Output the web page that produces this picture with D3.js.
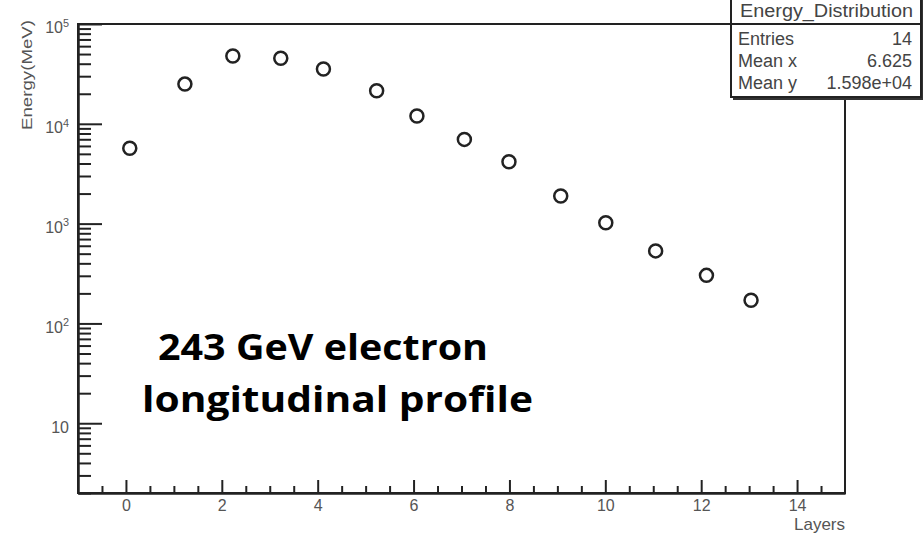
<!DOCTYPE html>
<html>
<head>
<meta charset="utf-8">
<script src="https://cdn.jsdelivr.net/npm/d3@7"></script>
<style>
  body { margin: 0; background: #fff; }
  svg text { font-family: "Liberation Sans", Arial, sans-serif; }
</style>
</head>
<body>
<svg id="chart"></svg>
<script>
// layer position and deposited energy (MeV)
const layers = [0.08, 1.23, 2.23, 3.23, 4.12, 5.23, 6.07, 7.06, 7.99, 9.07, 10.01, 11.05, 12.11, 13.04]
const energy = [5700, 25000, 47800, 45300, 35400, 21400, 11970, 6980, 4170, 1890, 1020, 533, 303, 171]

const xMajorTicks = [0, 2, 4, 6, 8, 10, 12, 14]
const yMajorTicks = [10, 100, 1000, 10000, 100000]

const statTitle = "Energy_Distribution"
const statNames = ["Entries", "Mean x", "Mean y"]
const statValues = ["14", "6.625", "1.598e+04"]

const noteLines = ["243 GeV electron", "longitudinal profile"]

const W = 923, H = 533
const margin = { top: 24, right: 78, bottom: 40, left: 78 }
const w = W - margin.left - margin.right
const h = H - margin.top - margin.bottom

const root = d3.select("#chart").attr("width", W).attr("height", H)
const svg = root.append("g")
  .attr("transform", "translate(" + margin.left + "," + margin.top + ")")

const xScale = d3.scaleLinear().domain([-1, 15]).range([0, w])
const yScale = d3.scaleLog().domain([2, 1e5]).range([h, 0])

// minor ticks: every 0.5 on x, 2..9 per decade on y
const xMinor = d3.range(-0.5, 15, 0.5).filter(v => !xMajorTicks.includes(v))
const yMinor = []
for (let e = 0; e < 5; e++) {
  for (let k = 2; k <= 9; k++) {
    const v = k * Math.pow(10, e)
    if (v >= 2 && v < 1e5) yMinor.push(v)
  }
}

// frame
svg.append("rect")
  .attr("width", w).attr("height", h)
  .attr("fill", "none").attr("stroke", "#222").attr("stroke-width", 2)

// x axis
const gXMinor = svg.append("g")
  .attr("transform", "translate(0," + h + ")")
  .call(d3.axisBottom(xScale).tickValues(xMinor).tickSize(-7).tickSizeOuter(0).tickFormat(""))
const gX = svg.append("g")
  .attr("transform", "translate(0," + h + ")")
  .call(d3.axisBottom(xScale).tickValues(xMajorTicks).tickSize(-13).tickSizeOuter(0).tickPadding(7))
gX.selectAll(".tick text").attr("font-size", 16).attr("fill", "#555")

// y axis
const gYMinor = svg.append("g")
  .call(d3.axisLeft(yScale).tickValues(yMinor).tickSize(-13).tickSizeOuter(0).tickFormat(""))
const gY = svg.append("g")
  .call(d3.axisLeft(yScale).tickValues(yMajorTicks).tickSize(-24).tickSizeOuter(0).tickPadding(9))

gY.selectAll(".tick text")
  .attr("font-size", 16).attr("fill", "#555").attr("dy", "0.55em")
  .each(function(d) {
    const t = d3.select(this)
    const e = Math.round(Math.log10(d))
    t.text(null)
    if (e === 1) {
      t.text("10")
    } else {
      t.append("tspan").text("10")
      t.append("tspan").attr("dy", "-0.6em").attr("font-size", "0.68em").text(e)
    }
  })

;[gX, gXMinor, gY, gYMinor].forEach(g => {
  g.select(".domain").attr("stroke", "#222").attr("stroke-width", 2)
  g.selectAll(".tick line").attr("stroke", "#222").attr("stroke-width", 2)
})

// axis titles
svg.append("text")
  .attr("x", w).attr("y", h + 37)
  .attr("text-anchor", "end").attr("font-size", 17).attr("fill", "#555")
  .text("Layers")

svg.append("text")
  .attr("transform", "translate(" + (-46) + "," + (-4) + ") rotate(-90)")
  .attr("text-anchor", "end").attr("font-size", 15).attr("fill", "#555")
  .attr("textLength", 110).attr("lengthAdjust", "spacingAndGlyphs")
  .text("Energy(MeV)")

// markers
svg.selectAll(".pt")
  .data(layers)
  .enter()
  .append("circle")
  .attr("class", "pt")
  .attr("cx", d => xScale(d))
  .attr("cy", (d, i) => yScale(energy[i]))
  .attr("r", 6.5)
  .attr("fill", "none")
  .attr("stroke", "#222")
  .attr("stroke-width", 2.5)

// stats box (drawn in page coords, it pokes out past the frame)
const box = { x: 731, y: -4, w: 190, h: 101 }
root.append("rect")
  .attr("x", box.x + 2).attr("y", box.y + 3).attr("width", box.w).attr("height", box.h)
  .attr("fill", "#333")
root.append("rect")
  .attr("x", box.x).attr("y", box.y).attr("width", box.w).attr("height", box.h)
  .attr("fill", "#fff").attr("stroke", "#222").attr("stroke-width", 2)
root.append("line")
  .attr("x1", box.x).attr("x2", box.x + box.w).attr("y1", 24).attr("y2", 24)
  .attr("stroke", "#222").attr("stroke-width", 2)
root.append("text")
  .attr("x", 740).attr("y", 17).attr("font-size", 18).attr("fill", "#444")
  .attr("textLength", 173).attr("lengthAdjust", "spacingAndGlyphs")
  .text(statTitle)

statNames.forEach((name, i) => {
  root.append("text")
    .attr("x", 738).attr("y", 45 + i * 22)
    .attr("font-size", 18).attr("fill", "#444")
    .text(name)
  root.append("text")
    .attr("x", 912).attr("y", 45 + i * 22)
    .attr("text-anchor", "end").attr("font-size", 18).attr("fill", "#444")
    .text(statValues[i])
})

// annotation
const noteX = [158, 142], noteLen = [330, 391], noteY = [360, 412]
noteLines.forEach((line, i) => {
  root.append("text")
    .attr("x", noteX[i]).attr("y", noteY[i])
    .style("font-family", "'Open Sans', Lato, sans-serif")
    .attr("font-weight", 700).attr("font-size", 35).attr("fill", "#000")
    .attr("textLength", noteLen[i]).attr("lengthAdjust", "spacingAndGlyphs")
    .text(line)
})
</script>
</body>
</html>
